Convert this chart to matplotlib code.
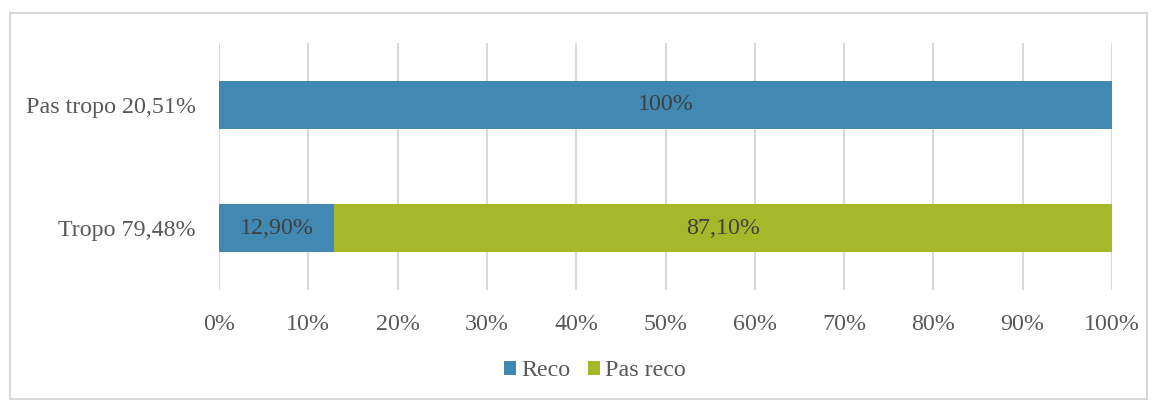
import matplotlib.pyplot as plt
from matplotlib.patches import Rectangle
from matplotlib.ticker import FuncFormatter

categories = ['Tropo 79,48%', 'Pas tropo 20,51%']
reco = [12.90, 100.0]
pas_reco = [87.10, 0.0]
reco_labels = ['12,90%', '100%']
pas_reco_labels = ['87,10%', '']

plt.rcParams['font.family'] = ['Liberation Serif', 'DejaVu Serif']
FS = 17.3

fig = plt.figure(figsize=(11.57, 4.0), dpi=100)
ax = fig.add_axes([219 / 1157, 1 - 290 / 400, 893 / 1157, 247 / 400])

# outer frame like the office chart border
fig.patches.append(Rectangle((10 / 1157, 0.002), 1137 / 1157, 1 - 13 / 400 - 0.002,
                             transform=fig.transFigure, fill=False,
                             edgecolor='#d9d9d9', linewidth=1.5))

blue = '#4189b3'
green = '#a5b82a'
y = range(len(categories))
b1 = ax.barh(y, reco, height=0.39, color=blue, label='Reco', zorder=3)
b2 = ax.barh(y, pas_reco, left=reco, height=0.39, color=green, label='Pas reco', zorder=3)

for bar, lab in zip(b1, reco_labels):
    ax.text(bar.get_x() + bar.get_width() / 2, bar.get_y() + bar.get_height() / 2, lab,
            ha='center', va='center', fontsize=FS, color='#404040', zorder=4)
for bar, lab in zip(b2, pas_reco_labels):
    if lab:
        ax.text(bar.get_x() + bar.get_width() / 2, bar.get_y() + bar.get_height() / 2, lab,
                ha='center', va='center', fontsize=FS, color='#404040', zorder=4)

ax.set_xlim(0, 100)
ax.set_ylim(-0.5, 1.5)
ax.set_xticks(range(0, 101, 10))
ax.xaxis.set_major_formatter(FuncFormatter(lambda v, p: f'{int(v)}%'))
ax.set_yticks(list(y))
ax.set_yticklabels(categories)
ax.tick_params(axis='both', length=0, labelsize=FS, labelcolor='#595959')
ax.tick_params(axis='x', pad=17)
ax.tick_params(axis='y', pad=16.5)
ax.grid(axis='x', color='#d9d9d9', linewidth=1.5, zorder=0)
for s in ax.spines.values():
    s.set_visible(False)

fig.legend(loc='center', bbox_to_anchor=(595 / 1157, 1 - 371 / 400), ncol=2, frameon=False,
           fontsize=FS, labelcolor='#595959', handlelength=0.5, handleheight=0.5,
           handletextpad=0.2, columnspacing=0.75)

fig.savefig('out.png', dpi=100)
